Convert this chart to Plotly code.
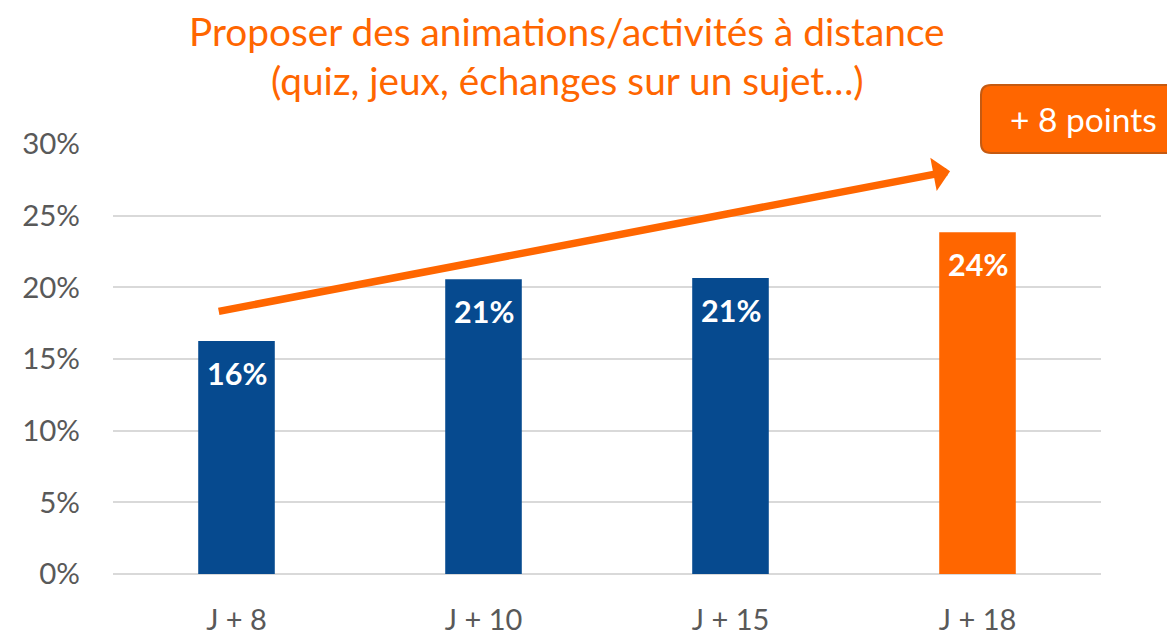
import plotly.graph_objects as go

categories = ["J + 8", "J + 10", "J + 15", "J + 18"]
values = [16.25, 20.56, 20.65, 23.84]
labels = ["16%", "21%", "21%", "24%"]
bar_colors = ["#064A8F", "#064A8F", "#064A8F", "#FF6600"]
y_ticks = [0, 5, 10, 15, 20, 25, 30]
y_ticklabels = ["0%", "5%", "10%", "15%", "20%", "25%", "30%"]

title_lines = ["Proposer des animations/activités à distance",
               "(quiz, jeux, échanges sur un sujet…)"]
badge_text = "+ 8 points"

FONT = "Lato"
GREY = "#595959"
ORANGE = "#FF6600"

# figure frame is offset by the page's 8px body margin
W, H = 1175, 631
L, T = 105, 136
PW, PH = 988, 430
R, B = W - L - PW, H - T - PH


def px(x):  # figure px -> paper x
    return (x - L) / PW


def py(y):  # figure px -> paper y
    return (T + PH - y) / PH


fig = go.Figure()
fig.add_trace(go.Bar(
    x=categories, y=values,
    marker=dict(color=bar_colors, line=dict(width=0)),
    width=0.31,
    hoverinfo="skip",
))

# data labels inside top of bars
for c, v, t in zip(categories, values, labels):
    fig.add_annotation(x=c, y=v, text="<b>" + t + "</b>", showarrow=False,
                       yanchor="top", yshift=-12, xref="x", yref="y",
                       font=dict(family=FONT, size=30.5, color="white"))

# trend arrow
fig.add_annotation(x=2.889, y=28.1, ax=-0.078, ay=18.3,
                   xref="x", yref="y", axref="x", ayref="y",
                   text="", showarrow=True, arrowhead=1, arrowsize=0.75,
                   arrowwidth=7.5, arrowcolor=ORANGE)

# badge rounded rect
x0, x1 = px(973), px(W + 40)
y0, y1 = py(145), py(77)
rx, ry = 10 / PW, 10 / PH
path = (f"M {x0+rx},{y1} L {x1},{y1} L {x1},{y0} L {x0+rx},{y0} "
        f"Q {x0},{y0} {x0},{y0+ry} L {x0},{y1-ry} Q {x0},{y1} {x0+rx},{y1} Z")
fig.add_shape(type="path", path=path, xref="paper", yref="paper",
              fillcolor=ORANGE, line=dict(color="#C55A11", width=2), layer="above")
fig.add_annotation(x=px(1075.5), y=py(111), xref="paper", yref="paper",
                   text=badge_text, showarrow=False, xanchor="center", yanchor="middle",
                   font=dict(family=FONT, size=33.5, color="white"))

# title (two centred lines)
for line, yc in zip(title_lines, [23, 72]):
    fig.add_annotation(x=px(559), y=py(yc), xref="paper", yref="paper",
                       text=line, showarrow=False, xanchor="center", yanchor="middle",
                       font=dict(family=FONT, size=38.8, color=ORANGE))

fig.update_layout(
    width=W, height=H,
    margin=dict(l=L, r=R, t=T, b=B),
    paper_bgcolor="white", plot_bgcolor="white",
    showlegend=False,
    xaxis=dict(type="category", range=[-0.5, 3.5], showgrid=False, showline=False,
               zeroline=False, ticks="", ticklabelstandoff=26, automargin=False,
               tickfont=dict(family=FONT, size=29, color=GREY)),
    yaxis=dict(range=[0, 30], tickvals=y_ticks, ticktext=y_ticklabels,
               showgrid=True, gridcolor="#D9D9D9", gridwidth=1.5,
               zeroline=True, zerolinecolor="#D9D9D9", zerolinewidth=1.5,
               showline=False, ticks="", ticklabelstandoff=32, automargin=False,
               tickfont=dict(family=FONT, size=29.5, color=GREY)),
)

fig.write_html("out.html")
